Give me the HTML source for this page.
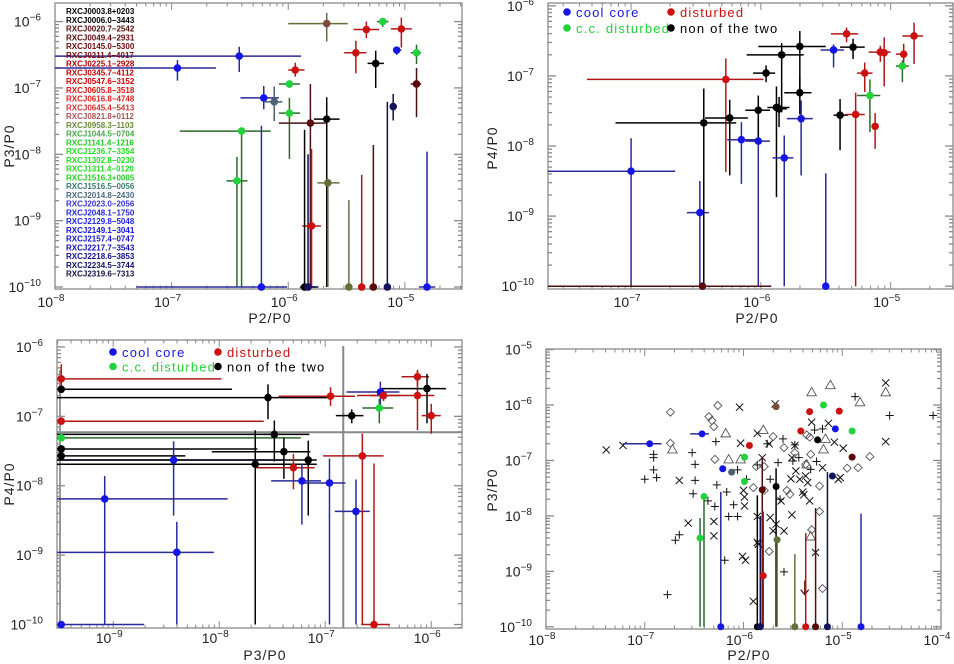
<!DOCTYPE html>
<html><head><meta charset="utf-8"><style>
html,body{margin:0;padding:0;background:#fff;}
svg{display:block;font-family:"Liberation Sans",sans-serif;}
</style></head><body>
<svg id="chart" width="954" height="664" viewBox="0 0 954 664"></svg>
<script>
// ===== data (log10 values) =====
const p1X=[-6.95,-6.42,-5.67,-5.19,-5.33,-5.03,-5.42,-5.07,-4.9,-5.25,-5.94,-4.9,-5.99,-6.21,-6.12,-5.99,-5.81,-5.67,-6.4,-6.44,-5.66,-5.8,-5.1,-6.23,-5.86,-5.83,-5.48,-5.37,-5.27,-5.15,-4.81];
const p1Y=[-6.7,-6.52,-6.03,-6.0,-6.12,-6.11,-6.47,-6.43,-6.47,-6.63,-6.73,-6.94,-6.94,-7.15,-7.21,-7.38,-7.53,-7.47,-7.65,-8.4,-8.43,-9.08,-7.28,-10,-10,-10,-10,-10,-10,-10,-10];
const p1XLo=[-8,-8,-6.0,-5.24,-5.44,-5.12,-5.52,-5.1,-4.95,-5.32,-6.0,-4.95,-6.08,-6.41,-6.2,-6.08,-6.08,-5.78,-6.93,-6.53,-5.75,-5.88,-5.12,-7.3,-5.9,-5.87,-5.5,-5.39,-5.29,-5.17,-4.88];
const p1XHi=[-6.62,-5.89,-5.49,-5.14,-5.22,-4.94,-5.33,-5.03,-4.86,-5.18,-5.86,-4.86,-5.9,-6.08,-6.05,-5.9,-5.68,-5.56,-6.15,-6.35,-5.56,-5.72,-5.08,-6.01,-5.76,-5.74,-5.46,-5.35,-5.25,-5.13,-4.74];
const p1YLo=[-6.89,-6.76,-6.3,-6.08,-6.25,-6.39,-6.78,-6.5,-6.64,-7.0,-6.83,-7.44,-7.0,-7.32,-7.5,-8.07,-10,-10,-10,-10,-10,-10,-7.49,-10,-10,-10,-10,-10,-10,-10,-10];
const p1YHi=[-6.58,-6.38,-5.87,-5.95,-6.0,-5.94,-6.29,-6.38,-6.35,-6.44,-6.62,-6.7,-6.9,-6.97,-6.98,-7.15,-6.94,-7.14,-7.63,-8.04,-8.4,-7.92,-7.09,-7.57,-7.63,-8.0,-8.69,-8.31,-7.86,-7.21,-7.96];
const p1C=['b','b','br','g','r','r','r','b','g','k','r','m','g','b','s','g','m','k','g','g','o','r','n','b','k','n','o','r','m','n','b'];
const names=['RXCJ0003.8+0203','RXCJ0006.0\u22123443','RXCJ0020.7\u22122542','RXCJ0049.4\u22122931','RXCJ0145.0\u22125300','RXCJ0211.4\u22124017','RXCJ0225.1\u22122928','RXCJ0345.7\u22124112','RXCJ0547.6\u22123152','RXCJ0605.8\u22123518','RXCJ0616.8\u22124748','RXCJ0645.4\u22125413','RXCJ0821.8+0112','RXCJ0958.3\u22121103','RXCJ1044.5\u22120704','RXCJ1141.4\u22121216','RXCJ1236.7\u22123354','RXCJ1302.8\u22120230','RXCJ1311.4\u22120120','RXCJ1516.3+0005','RXCJ1516.5\u22120056','RXCJ2014.8\u22122430','RXCJ2023.0\u22122056','RXCJ2048.1\u22121750','RXCJ2129.8\u22125048','RXCJ2149.1\u22123041','RXCJ2157.4\u22120747','RXCJ2217.7\u22123543','RXCJ2218.6\u22123853','RXCJ2234.5\u22123744','RXCJ2319.6\u22127313'];
const nameColors=['#000','#000','#5a0a0a','#5a0a0a','#6a0a0a','#7a0a0a','#a00','#b00','#c00','#d11','#d22','#c33','#a55','#6a8a3a','#4a4','#2c2','#2d2','#2d2','#2d2','#2c2','#3a7a6a','#4a6a80','#33c','#22d','#22e','#11d','#11c','#11a','#118','#116','#114'];

const p2X=[-7.0,-6.47,-6.45,-6.27,-6.44,-6.24,-6.15,-6.02,-6.02,-5.96,-5.88,-5.86,-5.84,-5.7,-5.7,-5.69,-5.82,-5.5,-5.44,-5.34,-5.29,-5.39,-5.27,-5.2,-5.16,-5.12,-5.08,-5.05,-4.9,-4.91,-4.82];
const p2Y=[-8.36,-8.95,-10,-7.05,-7.67,-7.6,-7.91,-7.93,-7.49,-6.96,-7.45,-7.47,-6.7,-6.58,-7.24,-7.61,-8.17,-10,-6.63,-6.4,-6.59,-7.56,-7.55,-6.96,-7.28,-7.72,-6.66,-6.67,-6.69,-6.86,-6.43];
const p2XLo=[-7.64,-6.57,-7.64,-7.34,-7.12,-6.43,-6.26,-6.12,-6.12,-6.06,-5.95,-5.9,-6.11,-6.02,-5.82,-5.8,-5.91,-5.52,-5.54,-5.46,-5.39,-5.44,-5.35,-5.26,-5.26,-5.14,-5.17,-5.07,-4.96,-4.96,-4.91];
const p2XHi=[-6.66,-6.4,-5.92,-5.98,-6.19,-6.1,-6.01,-5.93,-5.93,-5.89,-5.78,-5.8,-5.67,-5.5,-5.61,-5.6,-5.75,-5.48,-5.36,-5.25,-5.2,-5.33,-5.2,-5.14,-5.08,-5.1,-5.0,-5.03,-4.87,-4.86,-4.75];
const p2YLo=[-10,-10,-10,-8.37,-10,-8.42,-8.54,-10,-7.92,-7.09,-8.73,-7.73,-7.52,-7.21,-7.55,-8.42,-10,-10,-6.88,-6.52,-6.76,-8.06,-10,-7.23,-7.8,-8.04,-6.8,-7.15,-6.81,-7.09,-6.83];
const p2YHi=[-7.89,-8.5,-10,-6.75,-7.18,-7.34,-7.66,-7.59,-7.28,-6.85,-7.15,-7.3,-6.53,-6.36,-7.03,-7.35,-7.85,-8.39,-6.55,-6.31,-6.47,-7.33,-7.24,-6.81,-7.05,-7.53,-6.57,-6.45,-6.54,-6.78,-6.24];
const p2C=['b','b','m','r','k','k','b','b','k','k','k','k','k','k','k','b','b','b','b','r','k','k','r','r','g','r','r','r','r','g','r'];

const p3X=[-9.49,-9.49,-9.49,-9.49,-9.49,-9.49,-9.49,-9.08,-8.43,-8.4,-7.66,-7.54,-7.48,-7.39,-7.16,-7.3,-7.22,-6.96,-6.95,-6.75,-6.71,-6.65,-6.54,-6.48,-6.49,-6.45,-6.13,-6.13,-6.04,-6.0];
const p3Y=[-6.46,-6.61,-7.07,-7.31,-7.47,-7.57,-10,-8.19,-7.63,-8.96,-7.69,-6.73,-7.26,-7.51,-7.63,-7.74,-7.93,-7.96,-6.71,-6.99,-8.37,-7.57,-10,-6.65,-6.88,-6.7,-6.43,-6.7,-6.6,-6.99];
const p3XLo=[-9.53,-9.53,-9.53,-9.53,-9.53,-9.53,-9.53,-9.53,-9.53,-9.53,-9.53,-9.53,-9.53,-8.07,-9.53,-7.65,-7.51,-7.22,-7.44,-6.9,-6.91,-7.02,-6.66,-6.8,-6.65,-6.57,-6.28,-6.7,-6.47,-6.09];
const p3XHi=[-7.98,-7.88,-7.58,-7.23,-7.64,-8.32,-8.71,-7.92,-7.4,-8.05,-7.08,-6.92,-7.15,-7.14,-7.08,-7.1,-7.04,-6.81,-6.72,-6.64,-6.58,-6.45,-6.39,-6.3,-6.36,-6.29,-6.02,-5.97,-5.86,-5.91];
const p3YLo=[-6.63,-6.61,-7.07,-7.31,-7.47,-7.57,-10,-10,-8.43,-10,-10,-7.04,-7.65,-7.9,-8.43,-8.05,-8.56,-10,-6.85,-7.1,-10,-10,-10,-6.83,-7.1,-6.78,-6.55,-7.2,-7.1,-7.25];
const p3YHi=[-6.25,-6.61,-7.07,-7.31,-7.47,-7.57,-10,-7.86,-7.36,-8.52,-7.2,-6.54,-7.06,-7.31,-7.35,-7.54,-7.68,-7.61,-6.58,-6.9,-7.91,-7.25,-7.68,-6.5,-6.75,-6.62,-6.33,-6.35,-6.39,-6.82];
const p3C=['r','k','r','g','k','k','b','b','b','b','k','k','k','k','k','r','b','b','r','k','b','r','r','b','g','r','r','r','k','r'];
const p3Guides=[-6.83,-7.23];

const p4ShortIdx=[0,1];
const p4ShortXLo=[-7.22,-6.54];
const p4ShortXHi=[-6.83,-6.35];

const crossX=[-7.39,-7.22,-6.65,-6.56,-6.3,-6.3,-6.03,-6.04,-6.0,-5.99,-5.99,-6.01,-5.98,-5.86,-5.86,-5.85,-5.86,-5.81,-5.74,-5.68,-5.73,-5.7,-5.67,-5.62,-5.59,-5.52,-5.51,-5.48,-5.47,-5.43,-5.4,-5.39,-5.35,-5.33,-5.31,-5.27,-5.2,-5.14,-5.08,-5.04,-5.02,-4.99,-4.56,-4.56,-5.9,-5.51,-5.37];
const crossY=[-6.81,-6.73,-7.36,-8.13,-8.1,-8.36,-6.69,-6.04,-7.54,-7.66,-7.82,-8.73,-8.8,-8.01,-8.48,-8.51,-6.51,-6.95,-6.7,-5.98,-8.03,-8.27,-8.15,-7.73,-8.27,-7.33,-7.98,-6.73,-7.19,-7.34,-7.57,-7.62,-7.4,-7.73,-6.31,-8.66,-7.13,-6.33,-6.67,-7.34,-7.31,-6.78,-5.6,-6.66,-9.54,-6.95,-7.28];
const plusX=[-7.0,-6.91,-6.91,-6.91,-6.88,-6.77,-6.69,-6.65,-6.52,-6.49,-6.49,-6.51,-6.28,-6.29,-6.19,-6.17,-6.15,-6.1,-6.06,-6.06,-5.97,-5.86,-5.76,-5.73,-5.65,-5.6,-5.59,-5.63,-5.5,-5.48,-5.44,-5.32,-5.28,-5.26,-5.2,-4.87,-4.52,-4.08,-6.27,-6.36];
const plusY=[-7.34,-6.89,-6.95,-7.17,-7.31,-9.42,-8.44,-8.34,-6.86,-7.07,-7.36,-7.6,-6.66,-7.83,-8.8,-7.57,-8.01,-7.8,-7.17,-8.01,-7.34,-7.08,-6.7,-7.34,-7.04,-6.61,-9.01,-7.7,-7.01,-6.72,-6.95,-7.16,-6.45,-7.02,-6.43,-5.85,-6.19,-6.19,-7.44,-7.73];
const diamX=[-6.74,-6.74,-6.35,-6.32,-6.3,-6.26,-6.29,-5.9,-5.87,-5.79,-5.79,-5.74,-5.7,-5.59,-5.56,-5.53,-5.48,-5.37,-5.36,-5.32,-5.31,-5.23,-5.23,-5.2,-4.95,-4.84,-4.72,-5.33];
const diamY=[-6.13,-6.69,-6.21,-6.28,-6.39,-6.01,-6.98,-7.49,-7.11,-7.11,-7.54,-8.64,-6.57,-6.77,-7.54,-7.61,-6.86,-7.07,-6.54,-6.89,-8.25,-7.92,-7.46,-9.31,-7.14,-7.13,-6.93,-6.58];
const triX=[-6.72,-6.18,-6.15,-5.8,-5.31,-5.12,-5.17,-5.19,-5.36,-5.32,-4.82,-4.56,-6.03];
const triY=[-6.8,-6.51,-6.98,-6.45,-5.77,-5.64,-6.61,-6.8,-7.07,-8.37,-5.95,-5.77,-6.98];

const COL={b:'#1515e6',r:'#cc1111',g:'#22d23a',k:'#000000',m:'#5a0808',n:'#12125e',o:'#607038',s:'#4a6272',br:'#7a4a3a'};
const ECOL={b:'#2a2a9a',r:'#b01818',g:'#2a6a2a',k:'#000000',m:'#4a1010',n:'#101050',o:'#6a7040',s:'#4a6272',br:'#6a6a3a'};

// ===== drawing =====
const svg=document.getElementById('chart');
const NS='http://www.w3.org/2000/svg';
function mk(tag,attrs,parent){const e=document.createElementNS(NS,tag);for(const k in attrs)e.setAttribute(k,attrs[k]);(parent||svg).appendChild(e);return e;}
function makeAxes(cfg){
  const g=mk('g',{});
  
  
  cfg.sx=v=>cfg.x0+(v-cfg.xmin)/(cfg.xmax-cfg.xmin)*(cfg.x1-cfg.x0);
  cfg.sy=v=>cfg.y1-(v-cfg.ymin)/(cfg.ymax-cfg.ymin)*(cfg.y1-cfg.y0);
  cfg.g=g;
  return cfg;
}
function drawFrame(a){
  const g=mk('g',{},a.g);
  
  
  mk('rect',{x:a.x0,y:a.y0,width:a.x1-a.x0,height:a.y1-a.y0,fill:'none',stroke:'#8a8a8a','stroke-width':1.3},g);
  const tc='#8a8a8a';
  for(let d=Math.floor(a.xmin);d<=Math.ceil(a.xmax);d++){
    for(let m=1;m<10;m++){const v=d+Math.log10(m);if(v<a.xmin||v>a.xmax)continue;const x=a.sx(v);const L=m===1?7:3.5;
      mk('line',{x1:x,y1:a.y1,x2:x,y2:a.y1-L,stroke:tc,'stroke-width':1},g);
      mk('line',{x1:x,y1:a.y0,x2:x,y2:a.y0+L,stroke:tc,'stroke-width':1},g);}
  }
  for(let d=Math.floor(a.ymin);d<=Math.ceil(a.ymax);d++){
    for(let m=1;m<10;m++){const v=d+Math.log10(m);if(v<a.ymin||v>a.ymax)continue;const y=a.sy(v);const L=m===1?8:4;
      mk('line',{x1:a.x0,y1:y,x2:a.x0+L,y2:y,stroke:tc,'stroke-width':1.3},g);
      mk('line',{x1:a.x1,y1:y,x2:a.x1-L,y2:y,stroke:tc,'stroke-width':1.3},g);}
  }
  a.xTicks.forEach(v=>{const t=mk('text',{x:a.sx(v)-4,y:a.xLabY,'font-size':14,'text-anchor':'middle',fill:'#222'},g);
    
    t.textContent='10';const s=mk('tspan',{dy:-6,'font-size':10},t);s.textContent='\u2212'+(-v);});
  a.yTicks.forEach(v=>{const t=mk('text',{x:a.x0-14,y:a.sy(v)+5,'font-size':14,'text-anchor':'end',fill:'#222'},g);
    
    t.textContent='10';const s=mk('tspan',{dy:-6,'font-size':10},t);s.textContent='\u2212'+(-v);});
  const xt=mk('text',{x:a.xTitle[0],y:a.xTitle[1],'font-size':14,'text-anchor':'middle',fill:'#222','letter-spacing':1},g);
  xt.textContent=a.xLabel;
  const yt=mk('text',{x:0,y:0,'font-size':14,'text-anchor':'middle',fill:'#222','letter-spacing':1,transform:`translate(${a.yTitle[0]},${a.yTitle[1]}) rotate(-90)`},g);
  yt.textContent=a.yLabel;
}
function clampX(a,v){return Math.max(a.xmin,Math.min(a.xmax,v));}
function clampY(a,v){return Math.max(a.ymin,Math.min(a.ymax,v));}
function drawPoints(a,X,Y,XL,XH,YL,YH,C,r,opts){
  opts=opts||{};
  const g=mk('g',{},a.g);
  
  
  for(let i=0;i<X.length;i++){
    const ec=ECOL[C[i]];
    const x=a.sx(clampX(a,X[i])),y=a.sy(clampY(a,Y[i]));
    if(!opts.onlyLimits||YL[i]<=-10){
      const l=mk('line',{x1:x,x2:x,y1:a.sy(clampY(a,YL[i])),y2:a.sy(clampY(a,YH[i])),stroke:ec,'stroke-width':1.5},g);
      
    }
    if(!opts.noX){
      const l=mk('line',{y1:y,y2:y,x1:a.sx(clampX(a,XL[i])),x2:a.sx(clampX(a,XH[i])),stroke:ec,'stroke-width':1.5},g);
      
    }
  }
  if(opts.shortIdx){
    opts.shortIdx.forEach((i,k)=>{
      const y=a.sy(clampY(a,Y[i]));
      const l=mk('line',{y1:y,y2:y,x1:a.sx(opts.shortLo[k]),x2:a.sx(opts.shortHi[k]),stroke:ECOL[C[i]],'stroke-width':1.5},g);
      
    });
  }
  for(let i=0;i<X.length;i++){
    const c=mk('circle',{cx:a.sx(clampX(a,X[i])),cy:a.sy(clampY(a,Y[i])),r:r,fill:COL[C[i]]},g);
    
    
  }
}
function legend(a,x,y,dx,dy){
  const g=mk('g',{},a.g);
  
  
  const items=[['cool core','b',0,0],['disturbed','r',1,0],['c.c. disturbed','g',0,1],['non of the two','k',1,1]];
  items.forEach(it=>{
    const ex=x+it[2]*dx,ey=y+it[3]*dy;
    const e=mk('g',{},g);
    
    
    mk('circle',{cx:ex,cy:ey,r:3.8,fill:COL[it[1]]},e);
    const t=mk('text',{x:ex+9,y:ey+5,'font-size':13,fill:COL[it[1]],'letter-spacing':1.2},e);
    t.textContent=it[0];
  });
}

// Panel 1
const a1=makeAxes({name:'panel-p3-vs-p2',x0:55,x1:462,y0:3,y1:289,xmin:-8,xmax:-4.51,ymin:-10.03,ymax:-5.72,
  xTicks:[-8,-7,-6,-5],yTicks:[-6,-7,-8,-9,-10],xLabY:307,xTitle:[270,323],yTitle:[14,146],xLabel:'P2/P0',yLabel:'P3/P0'});
drawFrame(a1);
drawPoints(a1,p1X,p1Y,p1XLo,p1XHi,p1YLo,p1YHi,p1C,3.8);
(function(){const g=mk('g',{},a1.g);
  names.forEach((n,i)=>{const t=mk('text',{x:66,y:14+i*8.75,'font-size':8,'font-weight':'bold',fill:nameColors[i]},g);
    t.textContent=n;});})();

// Panel 2
const a2=makeAxes({name:'panel-p4-vs-p2',x0:548,x1:953,y0:3,y1:289,xmin:-7.64,xmax:-4.52,ymin:-10.04,ymax:-5.96,
  xTicks:[-7,-6,-5],yTicks:[-6,-7,-8,-9,-10],xLabY:307,xTitle:[757,323],yTitle:[497,148],xLabel:'P2/P0',yLabel:'P4/P0'});
drawFrame(a2);
drawPoints(a2,p2X,p2Y,p2XLo,p2XHi,p2YLo,p2YHi,p2C,3.8);
legend(a2,567,12,104,16);

// Panel 3
const a3=makeAxes({name:'panel-p4-vs-p3',x0:57,x1:462,y0:340,y1:628,xmin:-9.53,xmax:-5.71,ymin:-10.05,ymax:-5.9,
  xTicks:[-9,-8,-7,-6],yTicks:[-6,-7,-8,-9,-10],xLabY:643,xTitle:[265,660],yTitle:[14,484],xLabel:'P3/P0',yLabel:'P4/P0'});
drawFrame(a3);
(function(){const g=mk('g',{},a3.g);
  mk('line',{x1:a3.sx(p3Guides[0]),x2:a3.sx(p3Guides[0]),y1:a3.y0+6,y2:a3.y1,stroke:'#888','stroke-width':2},g);
  mk('line',{x1:a3.x0,x2:a3.x1,y1:a3.sy(p3Guides[1]),y2:a3.sy(p3Guides[1]),stroke:'#888','stroke-width':2},g);
  mk('line',{x1:a3.x0+3,x2:a3.x0+3,y1:a3.y0+30,y2:a3.y1,stroke:'#999','stroke-width':2},g);})();
drawPoints(a3,p3X,p3Y,p3XLo,p3XHi,p3YLo,p3YHi,p3C,3.8);
legend(a3,113,352,105,14.5);

// Panel 4
const a4=makeAxes({name:'panel-p3-vs-p2-comparison',x0:546,x1:941,y0:349,y1:629,xmin:-8,xmax:-4,ymin:-10.04,ymax:-4.99,
  xTicks:[-8,-7,-6,-5,-4],yTicks:[-5,-6,-7,-8,-9,-10],xLabY:645,xTitle:[749,660],yTitle:[497,490],xLabel:'P2/P0',yLabel:'P3/P0'});
drawFrame(a4);
(function(){
  const g=mk('g',{},a4.g);
  for(let i=0;i<crossX.length;i++){const x=a4.sx(crossX[i]),y=a4.sy(crossY[i]),s=3.6;
    const p=mk('path',{d:`M${x-s} ${y-s}L${x+s} ${y+s}M${x-s} ${y+s}L${x+s} ${y-s}`,stroke:'#111','stroke-width':1},g);
    }
  for(let i=0;i<plusX.length;i++){const x=a4.sx(plusX[i]),y=a4.sy(plusY[i]),s=4;
    const p=mk('path',{d:`M${x-s} ${y}L${x+s} ${y}M${x} ${y-s}L${x} ${y+s}`,stroke:'#111','stroke-width':1},g);
    }
  for(let i=0;i<diamX.length;i++){const x=a4.sx(diamX[i]),y=a4.sy(diamY[i]),s=4;
    const p=mk('path',{d:`M${x} ${y-s}L${x+s} ${y}L${x} ${y+s}L${x-s} ${y}Z`,fill:'none',stroke:'#555','stroke-width':0.9},g);
    }
  for(let i=0;i<triX.length;i++){const x=a4.sx(triX[i]),y=a4.sy(triY[i]),s=4.8;
    const p=mk('path',{d:`M${x} ${y-s}L${x+s} ${y+s*0.75}L${x-s} ${y+s*0.75}Z`,fill:'none',stroke:'#555','stroke-width':0.9},g);
    }
  const ax=a4.sx(-5.38),ay=a4.sy(-9.33);
  const ar=mk('path',{d:`M${ax} ${ay-9}L${ax} ${ay+5}M${ax-4} ${ay}L${ax} ${ay+5}L${ax+4} ${ay}`,stroke:'#5a0808','stroke-width':1.2,fill:'none'},g);
  
})();
drawPoints(a4,p1X,p1Y,p1XLo,p1XHi,p1YLo,p1YHi,p1C,3.5,{onlyLimits:true,noX:true,shortIdx:p4ShortIdx,shortLo:p4ShortXLo,shortHi:p4ShortXHi});
</script>
</body></html>
